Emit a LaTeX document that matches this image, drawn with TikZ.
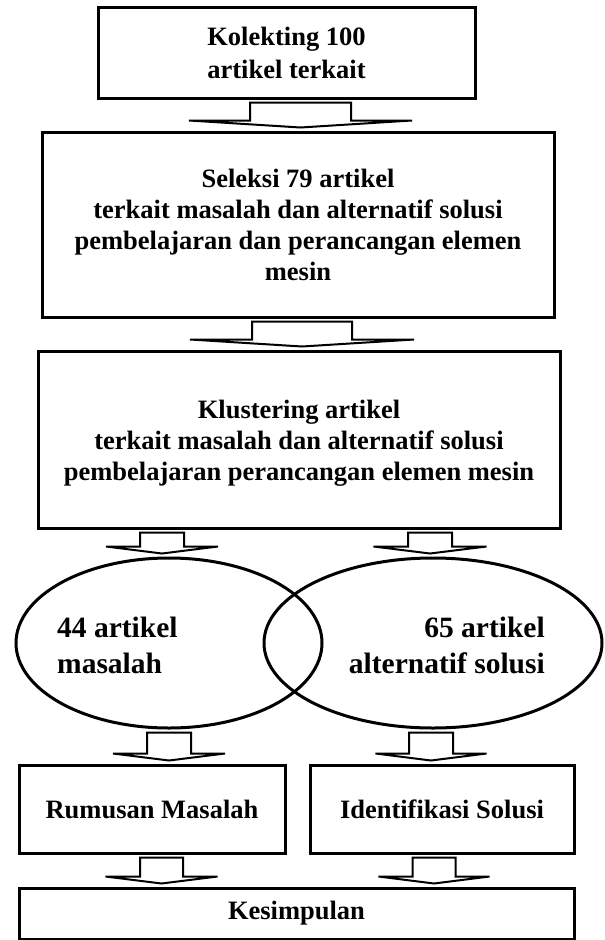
\documentclass[tikz,border=0pt]{standalone}
\usepackage{fontspec}
\setmainfont{Liberation Serif}
\usetikzlibrary{shapes.geometric,calc}

\tikzset{
  kotak/.style={draw,line width=3pt,inner sep=0pt,align=center,
    font=\bfseries\fontsize{26.5}{31}\selectfont},
  elips/.style={draw,ellipse,line width=3pt,inner sep=0pt},
  teks/.style={inner sep=0pt,font=\bfseries\fontsize{29.5}{36}\selectfont},
  panah/.style={line width=2pt,line join=miter}
}
% panah blok: dari, ke, x, setengah batang, setengah kepala
\newcommand{\panahblok}[5]{%
  \draw[panah] let \p1=(#1.south), \p2=(#2.north) in
    (#3pt-#4pt,\y1-3pt) -- (#3pt+#4pt,\y1-3pt) -- (#3pt+#4pt,\y2+10pt)
    -- (#3pt+#5pt,\y2+10pt) -- (#3pt,\y2+3pt) -- (#3pt-#5pt,\y2+10pt)
    -- (#3pt-#4pt,\y2+10pt) -- cycle;}

\begin{document}
\begin{tikzpicture}[x=1pt,y=-1pt]
\useasboundingbox (0,0) rectangle (605,940);
%Kotak
\node[kotak,minimum width=377pt,minimum height=91pt] (kolekting) at (286.5,52.5)
  {Kolekting 100\\[2pt]artikel terkait};
\node[kotak,minimum width=512pt,minimum height=185pt] (seleksi) at (298,224.5)
  {Seleksi 79 artikel\\terkait masalah dan alternatif solusi\\pembelajaran dan perancangan elemen\\mesin};
\node[kotak,minimum width=522pt,minimum height=177pt] (klustering) at (299,439.5)
  {\\[-6pt]Klustering artikel\\terkait masalah dan alternatif solusi\\pembelajaran perancangan elemen mesin};
%Elips
\node[elips,minimum width=306pt,minimum height=170pt] (masalah) at (169,643) {};
\node[elips,minimum width=338pt,minimum height=170pt] (solusi) at (433,643) {};
\node[teks,anchor=west,align=left] (tmasalah) at (57,645) {44 artikel\\masalah};
\node[teks,anchor=east,align=right] (tsolusi) at (545,645) {65 artikel\\alternatif solusi};
%Hasil
\node[kotak,minimum width=266pt,minimum height=88pt] (rumusan) at (152,809) {Rumusan Masalah};
\node[kotak,minimum width=264pt,minimum height=88pt] (identifikasi) at (442,809) {Identifikasi Solusi};
\node[kotak,minimum width=555pt,minimum height=51pt] (kesimpulan) at (296.5,913.5) {Kesimpulan};
%Panah
\panahblok{kolekting}{seleksi}{300.5}{50.5}{111.5}
\panahblok{seleksi}{klustering}{302}{50}{112}
\panahblok{klustering}{masalah}{162}{22}{56}
\panahblok{klustering}{solusi}{430}{22}{56.5}
\panahblok{masalah}{rumusan}{169}{22}{56}
\panahblok{solusi}{identifikasi}{431}{22}{55.5}
\panahblok{rumusan}{kesimpulan}{161.5}{21.5}{56}
\panahblok{identifikasi}{kesimpulan}{434}{21.5}{55.5}
\end{tikzpicture}
\end{document}
